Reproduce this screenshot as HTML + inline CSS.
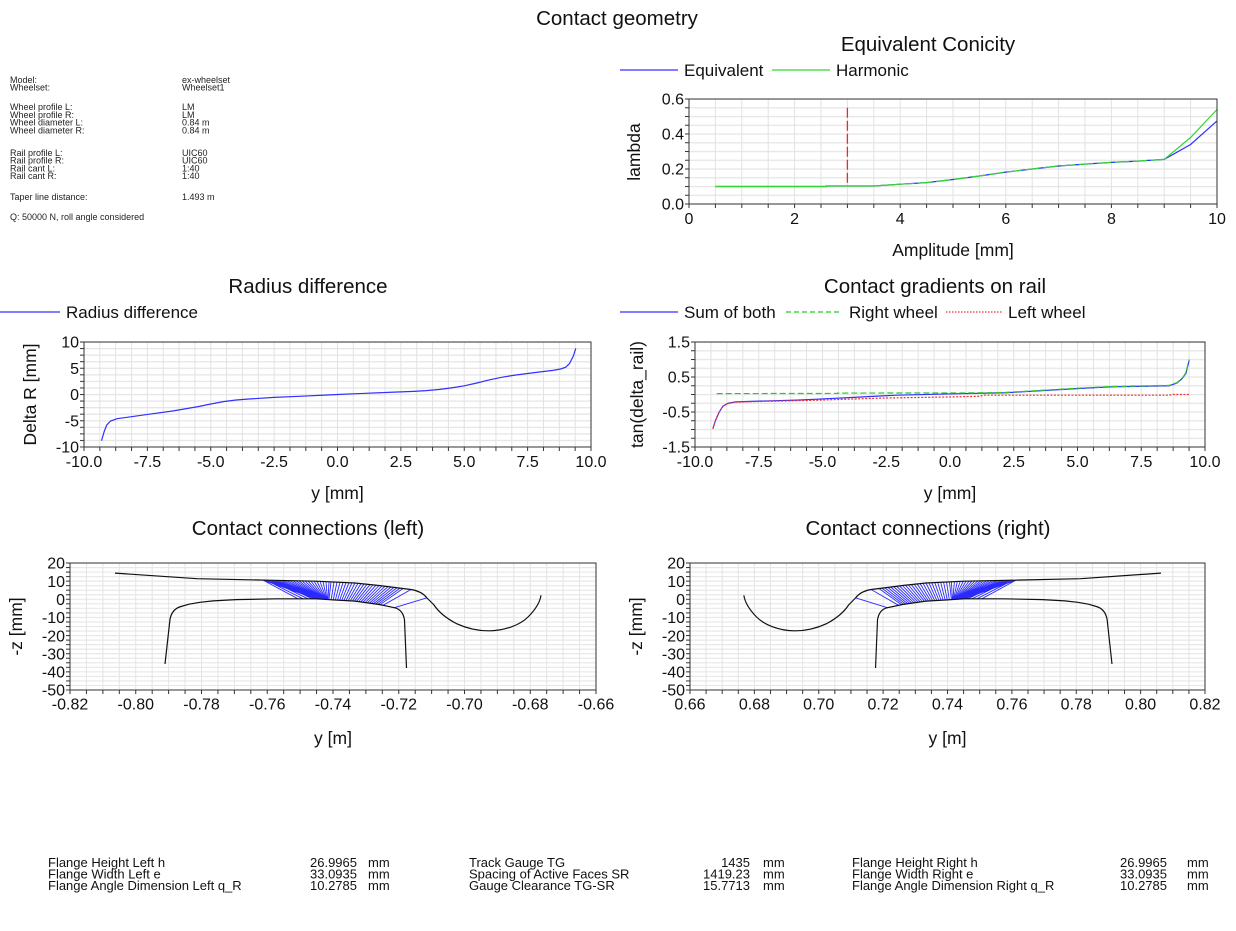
<!DOCTYPE html>
<html><head><meta charset="utf-8"><style>
html,body{margin:0;padding:0;background:#fff;}
svg{display:block;}
text{font-family:"Liberation Sans",Arial,sans-serif;fill:#111;}
.t{font-size:20.5px;text-anchor:middle;}
.ky{font-size:16px;text-anchor:end;}
.kx{font-size:16px;text-anchor:middle;}
.a{font-size:17.5px;text-anchor:middle;}
.lg{font-size:17px;}
.i{font-size:9px;fill:#222;}
.b{font-size:13px;}
.br{font-size:13px;text-anchor:end;}
</style></head><body>
<svg width="1236" height="931" viewBox="0 0 1236 931" xmlns="http://www.w3.org/2000/svg" xmlns:xlink="http://www.w3.org/1999/xlink">
<defs>
<pattern id="gC" x="688.5" y="98.4" width="26.4" height="8.75" patternUnits="userSpaceOnUse"><rect x="0" y="0" width="26.4" height="1.3" fill="#e6e6e6"/><rect x="0" y="0" width="1" height="8.75" fill="#e2e2e2"/></pattern>
<pattern id="tyC" x="685" y="98.5" width="4" height="8.75" patternUnits="userSpaceOnUse"><rect x="0" y="0" width="4" height="1" fill="#333"/></pattern>
<pattern id="txC" x="688.5" y="204" width="26.4" height="4" patternUnits="userSpaceOnUse"><rect x="0" y="0" width="1" height="4" fill="#333"/></pattern>

<pattern id="gR" x="83.5" y="341.4" width="15.84375" height="6.5625" patternUnits="userSpaceOnUse"><rect x="0" y="0" width="15.85" height="1.3" fill="#e6e6e6"/><rect x="0" y="0" width="1" height="6.6" fill="#e2e2e2"/></pattern>
<pattern id="tyR" x="80" y="341.5" width="4" height="6.5625" patternUnits="userSpaceOnUse"><rect x="0" y="0" width="4" height="1" fill="#333"/></pattern>
<pattern id="txR" x="83.5" y="447" width="15.84375" height="4" patternUnits="userSpaceOnUse"><rect x="0" y="0" width="1" height="4" fill="#333"/></pattern>

<pattern id="gG" x="694.5" y="341.4" width="15.9375" height="8.75" patternUnits="userSpaceOnUse"><rect x="0" y="0" width="15.94" height="1.3" fill="#e6e6e6"/><rect x="0" y="0" width="1" height="8.75" fill="#e2e2e2"/></pattern>
<pattern id="tyG" x="691" y="341.5" width="4" height="8.75" patternUnits="userSpaceOnUse"><rect x="0" y="0" width="4" height="1" fill="#333"/></pattern>
<pattern id="txG" x="694.5" y="447" width="15.9375" height="4" patternUnits="userSpaceOnUse"><rect x="0" y="0" width="1" height="4" fill="#333"/></pattern>

<pattern id="gL" x="69.5" y="562.4" width="16.4375" height="4.5357" patternUnits="userSpaceOnUse"><rect x="0" y="0" width="16.44" height="1.2" fill="#e8e8e8"/><rect x="0" y="0" width="1" height="4.54" fill="#e4e4e4"/></pattern>
<pattern id="tyL" x="66" y="562.5" width="4" height="4.5357" patternUnits="userSpaceOnUse"><rect x="0" y="0" width="4" height="1" fill="#333"/></pattern>
<pattern id="txL" x="69.5" y="690" width="16.4375" height="4" patternUnits="userSpaceOnUse"><rect x="0" y="0" width="1" height="4" fill="#333"/></pattern>

<pattern id="gR2" x="689.5" y="562.4" width="16.09375" height="4.5357" patternUnits="userSpaceOnUse"><rect x="0" y="0" width="16.1" height="1.2" fill="#e8e8e8"/><rect x="0" y="0" width="1" height="4.54" fill="#e4e4e4"/></pattern>
<pattern id="tyR2" x="686" y="562.5" width="4" height="4.5357" patternUnits="userSpaceOnUse"><rect x="0" y="0" width="4" height="1" fill="#333"/></pattern>
<pattern id="txR2" x="689.5" y="690" width="16.09375" height="4" patternUnits="userSpaceOnUse"><rect x="0" y="0" width="1" height="4" fill="#333"/></pattern>
</defs>

<rect width="1236" height="931" fill="#fff"/>

<text class="t" x="617" y="25">Contact geometry</text>

<!-- Info block -->
<text class="i" x="10" y="83">Model:</text><text class="i" x="182" y="83">ex-wheelset</text>
<text class="i" x="10" y="90.7">Wheelset:</text><text class="i" x="182" y="90.7">Wheelset1</text>
<text class="i" x="10" y="110">Wheel profile L:</text><text class="i" x="182" y="110">LM</text>
<text class="i" x="10" y="117.8">Wheel profile R:</text><text class="i" x="182" y="117.8">LM</text>
<text class="i" x="10" y="125.5">Wheel diameter L:</text><text class="i" x="182" y="125.5">0.84 m</text>
<text class="i" x="10" y="133.3">Wheel diameter R:</text><text class="i" x="182" y="133.3">0.84 m</text>
<text class="i" x="10" y="156">Rail profile L:</text><text class="i" x="182" y="156">UIC60</text>
<text class="i" x="10" y="163.7">Rail profile R:</text><text class="i" x="182" y="163.7">UIC60</text>
<text class="i" x="10" y="171.4">Rail cant L:</text><text class="i" x="182" y="171.4">1:40</text>
<text class="i" x="10" y="179">Rail cant R:</text><text class="i" x="182" y="179">1:40</text>
<text class="i" x="10" y="200">Taper line distance:</text><text class="i" x="182" y="200">1.493 m</text>
<text class="i" x="10" y="220">Q: 50000 N, roll angle considered</text>

<!-- ============ Equivalent Conicity ============ -->
<text class="t" x="928" y="51">Equivalent Conicity</text>
<line x1="620" y1="70" x2="678" y2="70" stroke="#3030ff" stroke-width="1.2"/>
<text class="lg" x="684" y="76">Equivalent</text>
<line x1="772" y1="70" x2="830" y2="70" stroke="#33d633" stroke-width="1.2"/>
<text class="lg" x="836" y="76">Harmonic</text>

<rect x="689" y="99" width="528" height="105" fill="url(#gC)"/>
<rect x="685" y="98.5" width="4" height="106" fill="url(#tyC)"/>
<rect x="688.5" y="204" width="529.5" height="4" fill="url(#txC)"/>
<line x1="847.4" y1="107.75" x2="847.4" y2="184.75" stroke="#ff2020" stroke-width="1.3" stroke-dasharray="10,3"/>
<polyline fill="none" stroke="#3030ff" stroke-width="1.2" points="715.4,186.5 826.3,186.5 826.3,186.0 873.8,186.0 900.2,184.2 926.6,182.65 953,179.5 979.4,176 1005.8,172.15 1032.2,169 1058.6,166 1085,164.1 1111.4,162.35 1137.8,161.1 1164.2,159.4 1190.6,144.5 1217,120.9"/>
<polyline fill="none" stroke="#33d633" stroke-width="1.2" stroke-dasharray="14,4" points="900.2,184.2 926.6,182.65 953,179.5 979.4,176 1005.8,172.15 1032.2,169 1058.6,166 1085,164.1 1111.4,162.35 1137.8,161.1 1164.2,159.4"/>
<polyline fill="none" stroke="#33d633" stroke-width="1.2" points="715.4,186.5 826.3,186.5 826.3,186.0 873.8,186.0 900.2,184.2"/>
<polyline fill="none" stroke="#33d633" stroke-width="1.2" points="1164.2,159.4 1190.6,137.5 1217,109.5"/>
<rect x="689" y="99" width="528" height="105" fill="none" stroke="#333" stroke-width="1"/>
<text class="ky" x="684" y="104.7">0.6</text>
<text class="ky" x="684" y="139.7">0.4</text>
<text class="ky" x="684" y="174.7">0.2</text>
<text class="ky" x="684" y="209.7">0.0</text>
<text class="kx" x="689" y="224">0</text>
<text class="kx" x="794.6" y="224">2</text>
<text class="kx" x="900.2" y="224">4</text>
<text class="kx" x="1005.8" y="224">6</text>
<text class="kx" x="1111.4" y="224">8</text>
<text class="kx" x="1217" y="224">10</text>
<text class="a" x="953" y="256">Amplitude [mm]</text>
<text class="a" transform="translate(640,152) rotate(-90)">lambda</text>

<!-- ============ Radius difference ============ -->
<text class="t" x="308" y="293">Radius difference</text>
<line x1="0" y1="312" x2="60" y2="312" stroke="#3030ff" stroke-width="1.2"/>
<text class="lg" x="66" y="318">Radius difference</text>

<rect x="84" y="342" width="507" height="105" fill="url(#gR)"/>
<rect x="80" y="341.5" width="4" height="106" fill="url(#tyR)"/>
<rect x="83.5" y="447" width="508" height="4" fill="url(#txR)"/>
<polyline fill="none" stroke="#3030ff" stroke-width="1.2" points="101.5,440.7 104.3,431.25 106.8,424.95 110.6,421.0 117,418.65 127.1,417.3 147.4,414.45 172.7,411.0 198.1,406.6 210.75,404 223.4,401.6 236.1,400.0 248.8,399.0 274.1,397.4 299.5,396.3 324.8,395.1 337.5,394.5 362.9,393.45 388.2,392.4 413.6,391.35 426.2,390.6 438.9,389.5 451.6,387.9 464.3,385.8 476.9,383.0 489.6,379.8 502.3,377.2 515,375.1 527.6,373.5 540.3,371.9 553,370.35 560.6,369.0 565.7,367.2 569.5,363.5 573.3,356.2 575.8,348.3"/>
<rect x="84" y="342" width="507" height="105" fill="none" stroke="#333" stroke-width="1"/>
<text class="ky" x="79" y="347.7">10</text>
<text class="ky" x="79" y="373.95">5</text>
<text class="ky" x="79" y="400.2">0</text>
<text class="ky" x="79" y="426.45">-5</text>
<text class="ky" x="79" y="452.7">-10</text>
<text class="kx" x="84" y="467">-10.0</text>
<text class="kx" x="147.4" y="467">-7.5</text>
<text class="kx" x="210.75" y="467">-5.0</text>
<text class="kx" x="274.1" y="467">-2.5</text>
<text class="kx" x="337.5" y="467">0.0</text>
<text class="kx" x="400.9" y="467">2.5</text>
<text class="kx" x="464.25" y="467">5.0</text>
<text class="kx" x="527.6" y="467">7.5</text>
<text class="kx" x="591" y="467">10.0</text>
<text class="a" x="337.5" y="499">y [mm]</text>
<text class="a" transform="translate(36,394.5) rotate(-90)">Delta R [mm]</text>

<!-- ============ Contact gradients on rail ============ -->
<text class="t" x="935" y="293">Contact gradients on rail</text>
<line x1="620" y1="312" x2="678" y2="312" stroke="#3030ff" stroke-width="1.2"/>
<text class="lg" x="684" y="318">Sum of both</text>
<line x1="786" y1="312" x2="842" y2="312" stroke="#22cc22" stroke-width="1.2" stroke-dasharray="5,3"/>
<text class="lg" x="849" y="318">Right wheel</text>
<line x1="946" y1="312" x2="1002" y2="312" stroke="#ee3030" stroke-width="1.2" stroke-dasharray="1.5,1.5"/>
<text class="lg" x="1008" y="318">Left wheel</text>

<rect x="695" y="342" width="510" height="105" fill="url(#gG)"/>
<rect x="691" y="341.5" width="4" height="106" fill="url(#tyG)"/>
<rect x="694.5" y="447" width="511" height="4" fill="url(#txG)"/>
<polyline fill="none" stroke="#3030ff" stroke-width="1.2" points="712.85,428.8 715.4,420.75 719.2,412 723.05,406.05 728.15,403.25 735.8,401.85 758.75,401.15 797,400.1 827.6,398.7 860.75,397 896.45,395.2 955.1,393.8 1006.1,392.75 1059.65,389.6 1090.25,387.85 1113.2,386.8 1169.3,385.75 1176.95,382.95 1182.05,378.75 1185.9,373.5 1189.2,360.2"/>
<polyline fill="none" stroke="#22cc22" stroke-width="1.2" stroke-dasharray="6,3" points="716.7,393.6 837.8,393.45 837.8,393.1 975.5,392.9 1006.1,392.4 1059.65,389.25 1090.25,387.5 1113.2,386.45 1169.3,385.4 1176.95,382.6 1182.05,378.4 1185.9,372.8 1189.2,359.5"/>
<polyline fill="none" stroke="#ee3030" stroke-width="1.2" stroke-dasharray="2,1.5" points="712.85,428.8 715.4,420.75 719.2,412 723.05,406.05 728.15,403.35 735.8,402.2 758.75,401.5 809.75,400.45 840.35,399.4 886.25,398 950,396.95 980.6,396.25 983.15,395.2 1077.5,395.2 1169.3,395.2 1171.85,394.5 1189.2,394.5"/>
<rect x="695" y="342" width="510" height="105" fill="none" stroke="#333" stroke-width="1"/>
<text class="ky" x="690" y="347.7">1.5</text>
<text class="ky" x="690" y="382.7">0.5</text>
<text class="ky" x="690" y="417.7">-0.5</text>
<text class="ky" x="690" y="452.7">-1.5</text>
<text class="kx" x="695" y="467">-10.0</text>
<text class="kx" x="758.75" y="467">-7.5</text>
<text class="kx" x="822.5" y="467">-5.0</text>
<text class="kx" x="886.25" y="467">-2.5</text>
<text class="kx" x="950" y="467">0.0</text>
<text class="kx" x="1013.75" y="467">2.5</text>
<text class="kx" x="1077.5" y="467">5.0</text>
<text class="kx" x="1141.25" y="467">7.5</text>
<text class="kx" x="1205" y="467">10.0</text>
<text class="a" x="950" y="499">y [mm]</text>
<text class="a" transform="translate(643,394.5) rotate(-90)">tan(delta_rail)</text>

<!-- ============ Contact connections (left) ============ -->
<text class="t" x="308" y="535">Contact connections (left)</text>
<rect x="70" y="563" width="526" height="127" fill="url(#gL)"/>
<rect x="66" y="562.5" width="4" height="128" fill="url(#tyL)"/>
<rect x="69.5" y="690" width="527" height="4" fill="url(#txL)"/>
<g id="contactL">
<path fill="none" stroke="#2a2aff" stroke-width="0.9" d="M263,580.1L316,598.8M266,580.16L316.55,598.83M269,580.22L317.09,598.87M272,580.28L317.64,598.9M275,580.35L318.18,598.94M278,580.41L318.73,598.97M281,580.47L319.27,599.01M284,580.53L319.82,599.04M287,580.6L320.36,599.07M290,580.66L320.91,599.11M293,580.72L321.45,599.14M296,580.78L322,599.18M299,580.84L322.55,599.21M302,580.91L323.09,599.25M305,580.97L323.64,599.28M308,581.03L324.18,599.32M311,581.1L324.73,599.35M314,581.16L325.27,599.38M317,581.25L325.82,599.42M320,581.38L326.36,599.45M323,581.52L326.91,599.49M326,581.66L327.45,599.52M329,581.8L328,599.56M263,580.1L298,598.8M266,580.16L303,598.8M270,580.24L308,598.8M275,580.35L312,598.8M282,580.5L314,598.8M331,581.89L329,599.62M334,582.03L331.13,599.75M337,582.17L333.25,599.89M340,582.3L335.38,600.02M343,582.44L337.5,600.14M346,582.58L339.63,600.25M349,582.72L341.75,600.37M352,582.86L343.88,600.49M355,583L346,600.61M358,583.31L348.13,600.72M361,583.62L350.25,600.84M364,583.94L352.38,600.96M367,584.25L354.5,601.07M370,584.56L356.63,601.33M373,584.88L358.75,601.63M376,585.19L360.88,601.94M379,585.5L363,602.24M382,585.88L365.13,602.54M385,586.25L367.25,602.84M388,586.63L369.38,603.13M391,587L371.5,603.43M394,587.38L373.63,603.73M397,587.75L375.75,604.04M400,588.13L377.88,604.34M403,588.5L380,604.71M411,589.5L383,605.3M427,597.8L394,607.8"/>
<path fill="none" stroke="#111" stroke-width="1.2" d="M165,664L170,619.3Q172,609 181,606.5L189,604.2L200,602.3L213,600.9L236,599.6L276,598.8L316,598.8L335,600L355,601.1L379,604.5L395,607.8Q403,610 404.5,620L406.5,668"/>
<path fill="none" stroke="#111" stroke-width="1.2" d="M115,573.1L197,578.7L268,580.2L316,581.2L355,583L379,585.5L411,589.5C418,590.5 423,593 427,598L434,605C438,611 444,617 456,623.4C466,628 478,631 490,630.8C505,630.5 520,625 528,617C535,610 540,602 541,595.3"/>
</g>
<rect x="70" y="563" width="526" height="127" fill="none" stroke="#333" stroke-width="1"/>
<text class="ky" x="65" y="568.7">20</text>
<text class="ky" x="65" y="586.84">10</text>
<text class="ky" x="65" y="604.99">0</text>
<text class="ky" x="65" y="623.13">-10</text>
<text class="ky" x="65" y="641.27">-20</text>
<text class="ky" x="65" y="659.41">-30</text>
<text class="ky" x="65" y="677.56">-40</text>
<text class="ky" x="65" y="695.7">-50</text>
<text class="kx" x="70" y="709.7">-0.82</text>
<text class="kx" x="135.75" y="709.7">-0.80</text>
<text class="kx" x="201.5" y="709.7">-0.78</text>
<text class="kx" x="267.25" y="709.7">-0.76</text>
<text class="kx" x="333" y="709.7">-0.74</text>
<text class="kx" x="398.75" y="709.7">-0.72</text>
<text class="kx" x="464.5" y="709.7">-0.70</text>
<text class="kx" x="530.25" y="709.7">-0.68</text>
<text class="kx" x="596" y="709.7">-0.66</text>
<text class="a" x="333" y="744">y [m]</text>
<text class="a" transform="translate(22,626.5) rotate(-90)">-z [mm]</text>

<!-- ============ Contact connections (right) ============ -->
<text class="t" x="928" y="535">Contact connections (right)</text>
<rect x="690" y="563" width="515" height="127" fill="url(#gR2)"/>
<rect x="686" y="562.5" width="4" height="128" fill="url(#tyR2)"/>
<rect x="689.5" y="690" width="516" height="4" fill="url(#txR2)"/>
<use href="#contactL" xlink:href="#contactL" transform="matrix(-0.97909 0 0 1 1273.54 0)"/>
<rect x="690" y="563" width="515" height="127" fill="none" stroke="#333" stroke-width="1"/>
<text class="ky" x="685" y="568.7">20</text>
<text class="ky" x="685" y="586.84">10</text>
<text class="ky" x="685" y="604.99">0</text>
<text class="ky" x="685" y="623.13">-10</text>
<text class="ky" x="685" y="641.27">-20</text>
<text class="ky" x="685" y="659.41">-30</text>
<text class="ky" x="685" y="677.56">-40</text>
<text class="ky" x="685" y="695.7">-50</text>
<text class="kx" x="690" y="709.7">0.66</text>
<text class="kx" x="754.4" y="709.7">0.68</text>
<text class="kx" x="818.75" y="709.7">0.70</text>
<text class="kx" x="883.1" y="709.7">0.72</text>
<text class="kx" x="947.5" y="709.7">0.74</text>
<text class="kx" x="1011.9" y="709.7">0.76</text>
<text class="kx" x="1076.25" y="709.7">0.78</text>
<text class="kx" x="1140.6" y="709.7">0.80</text>
<text class="kx" x="1205" y="709.7">0.82</text>
<text class="a" x="947.5" y="744">y [m]</text>
<text class="a" transform="translate(642,626.5) rotate(-90)">-z [mm]</text>

<!-- ============ Bottom table ============ -->
<text class="b" x="48" y="867">Flange Height Left h</text>
<text class="b" x="48" y="878.5">Flange Width Left e</text>
<text class="b" x="48" y="890">Flange Angle Dimension Left q_R</text>
<text class="br" x="357" y="867">26.9965</text>
<text class="br" x="357" y="878.5">33.0935</text>
<text class="br" x="357" y="890">10.2785</text>
<text class="b" x="368" y="867">mm</text>
<text class="b" x="368" y="878.5">mm</text>
<text class="b" x="368" y="890">mm</text>

<text class="b" x="469" y="867">Track Gauge TG</text>
<text class="b" x="469" y="878.5">Spacing of Active Faces SR</text>
<text class="b" x="469" y="890">Gauge Clearance TG-SR</text>
<text class="br" x="750" y="867">1435</text>
<text class="br" x="750" y="878.5">1419.23</text>
<text class="br" x="750" y="890">15.7713</text>
<text class="b" x="763" y="867">mm</text>
<text class="b" x="763" y="878.5">mm</text>
<text class="b" x="763" y="890">mm</text>

<text class="b" x="852" y="867">Flange Height Right h</text>
<text class="b" x="852" y="878.5">Flange Width Right e</text>
<text class="b" x="852" y="890">Flange Angle Dimension Right q_R</text>
<text class="br" x="1167" y="867">26.9965</text>
<text class="br" x="1167" y="878.5">33.0935</text>
<text class="br" x="1167" y="890">10.2785</text>
<text class="b" x="1187" y="867">mm</text>
<text class="b" x="1187" y="878.5">mm</text>
<text class="b" x="1187" y="890">mm</text>
</svg>
</body></html>
